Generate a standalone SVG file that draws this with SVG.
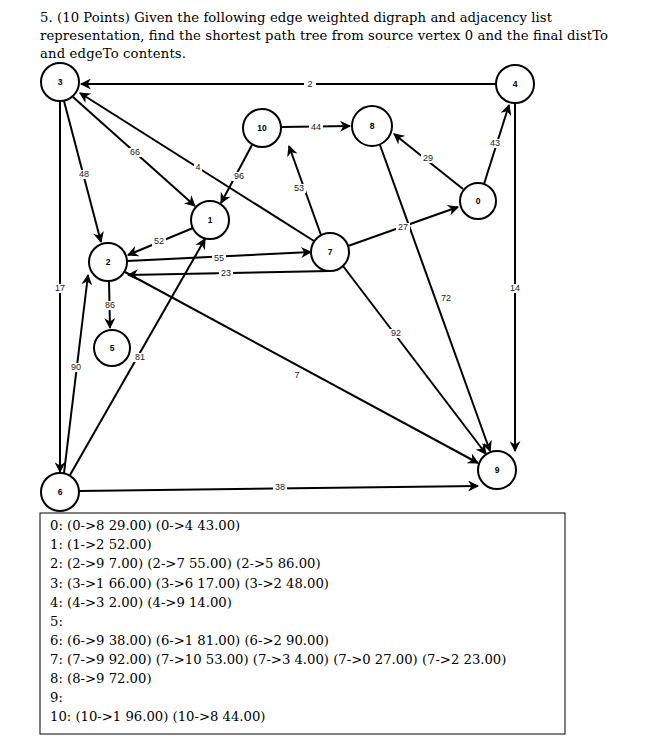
<svg xmlns="http://www.w3.org/2000/svg" width="669" height="756" viewBox="0 0 669 756">
<style>
.n circle{fill:#fff;stroke:#000;stroke-width:2}
.n text{font-family:"Liberation Sans",Arial,sans-serif;font-size:8.5px;font-weight:bold;text-anchor:middle;dominant-baseline:central}
.e line,.e path{stroke:#000;stroke-width:2;fill:none;marker-end:url(#a)}
.l{font-family:"Liberation Sans",Arial,sans-serif;font-size:9px;text-anchor:middle;dominant-baseline:central;fill:#222}
.lb{fill:#fff}
.t{font-family:"DejaVu Serif",serif;font-size:13.2px}
</style>
<defs><marker id="a" viewBox="0 0 10 10" refX="9" refY="5" markerWidth="12" markerHeight="11" orient="auto" markerUnits="userSpaceOnUse"><path d="M0,0 L10,5 L0,10 L3,5z" fill="#000"/></marker></defs>
<rect width="669" height="756" fill="#fff"/>
<g class="t">
<text x="40" y="22" textLength="512">5. (10 Points) Given the following edge weighted digraph and adjacency list</text>
<text x="40" y="40" textLength="568">representation, find the shortest path tree from source vertex 0 and the final distTo</text>
<text x="40" y="58" textLength="146">and edgeTo contents.</text>
</g>
<g class="e" id="edges">
<line x1="496" y1="84" x2="81" y2="84"/>
<line x1="282" y1="127" x2="350" y2="126"/>
<line x1="463" y1="189" x2="394" y2="134"/>
<line x1="484" y1="184" x2="509" y2="105"/>
<line x1="348" y1="246" x2="458" y2="207"/>
<line x1="73" y1="97" x2="195" y2="206"/>
<line x1="314" y1="241" x2="80" y2="93"/>
<line x1="64" y1="101" x2="101" y2="242"/>
<line x1="252" y1="145" x2="221" y2="203"/>
<line x1="321" y1="235" x2="289" y2="146"/>
<line x1="193" y1="228" x2="128" y2="255"/>
<line x1="127" y1="261" x2="311" y2="252"/>
<path d="M330,271 L128,275" />
<line x1="60" y1="101" x2="60" y2="472"/>
<line x1="109" y1="281" x2="110" y2="328"/>
<line x1="64" y1="473" x2="88" y2="275"/>
<line x1="70" y1="475" x2="205" y2="239"/>
<line x1="125" y1="272" x2="478" y2="463"/>
<line x1="343" y1="266" x2="486" y2="454"/>
<line x1="380" y1="145" x2="490" y2="451"/>
<line x1="515" y1="103" x2="515" y2="451"/>
<line x1="79" y1="491" x2="478" y2="486"/>
</g>
<g class="l">
<rect class="lb" x="304" y="80" width="12" height="9"/><text x="310" y="84">2</text>
<rect class="lb" x="309" y="123" width="14" height="9"/><text x="316" y="127">44</text>
<rect class="lb" x="421" y="154" width="14" height="9"/><text x="428" y="158">29</text>
<rect class="lb" x="488" y="139" width="14" height="9"/><text x="495" y="143">43</text>
<rect class="lb" x="396" y="223" width="14" height="9"/><text x="403" y="227">27</text>
<rect class="lb" x="128" y="148" width="14" height="9"/><text x="135" y="152">66</text>
<rect class="lb" x="194" y="163" width="8" height="9"/><text x="198" y="167">4</text>
<rect class="lb" x="77" y="170" width="14" height="9"/><text x="84" y="174">48</text>
<rect class="lb" x="232" y="172" width="14" height="9"/><text x="239" y="176">96</text>
<rect class="lb" x="292" y="184" width="14" height="9"/><text x="299" y="188">53</text>
<rect class="lb" x="152" y="237" width="14" height="9"/><text x="159" y="241">52</text>
<rect class="lb" x="212" y="254" width="14" height="9"/><text x="219" y="258">55</text>
<rect class="lb" x="219" y="269" width="14" height="9"/><text x="226" y="273">23</text>
<rect class="lb" x="53" y="284" width="14" height="9"/><text x="60" y="288">17</text>
<rect class="lb" x="103" y="301" width="14" height="9"/><text x="110" y="305">86</text>
<rect class="lb" x="69" y="363" width="14" height="9"/><text x="76" y="367">90</text>
<rect class="lb" x="133" y="353" width="14" height="9"/><text x="140" y="357">81</text>
<rect class="lb" x="293" y="371" width="8" height="9"/><text x="297" y="375">7</text>
<rect class="lb" x="389" y="329" width="14" height="9"/><text x="396" y="333">92</text>
<rect class="lb" x="439" y="294" width="14" height="9"/><text x="446" y="298">72</text>
<rect class="lb" x="508" y="284" width="14" height="9"/><text x="515" y="288">14</text>
<rect class="lb" x="273" y="483" width="14" height="9"/><text x="280" y="487">38</text>
</g>
<g class="n" id="n3"><circle cx="60" cy="82" r="19"/><text x="60" y="82">3</text></g>
<g class="n" id="n4"><circle cx="515" cy="84" r="19"/><text x="515" y="84">4</text></g>
<g class="n" id="n10"><circle cx="262" cy="128" r="19"/><text x="262" y="128">10</text></g>
<g class="n" id="n8"><circle cx="372" cy="126" r="20"/><text x="372" y="126">8</text></g>
<g class="n" id="n0"><circle cx="478" cy="201" r="18"/><text x="478" y="201">0</text></g>
<g class="n" id="n1"><circle cx="210" cy="220" r="19"/><text x="210" y="220">1</text></g>
<g class="n" id="n7"><circle cx="330" cy="252" r="19"/><text x="330" y="252">7</text></g>
<g class="n" id="n2"><circle cx="108" cy="262" r="19"/><text x="108" y="262">2</text></g>
<g class="n" id="n5"><circle cx="112" cy="348" r="18"/><text x="112" y="348">5</text></g>
<g class="n" id="n9"><circle cx="497" cy="470" r="19"/><text x="497" y="470">9</text></g>
<g class="n" id="n6"><circle cx="60" cy="492" r="19"/><text x="60" y="492">6</text></g>
<rect x="40" y="513" width="525" height="221" fill="none" stroke="#000" stroke-width="1"/>
<g class="t">
<text x="50" y="530">0: (0-&gt;8 29.00) (0-&gt;4 43.00)</text>
<text x="50" y="549">1: (1-&gt;2 52.00)</text>
<text x="50" y="568">2: (2-&gt;9 7.00) (2-&gt;7 55.00) (2-&gt;5 86.00)</text>
<text x="50" y="588">3: (3-&gt;1 66.00) (3-&gt;6 17.00) (3-&gt;2 48.00)</text>
<text x="50" y="607">4: (4-&gt;3 2.00) (4-&gt;9 14.00)</text>
<text x="50" y="626">5:</text>
<text x="50" y="645">6: (6-&gt;9 38.00) (6-&gt;1 81.00) (6-&gt;2 90.00)</text>
<text x="50" y="664">7: (7-&gt;9 92.00) (7-&gt;10 53.00) (7-&gt;3 4.00) (7-&gt;0 27.00) (7-&gt;2 23.00)</text>
<text x="50" y="683">8: (8-&gt;9 72.00)</text>
<text x="50" y="702">9:</text>
<text x="50" y="721">10: (10-&gt;1 96.00) (10-&gt;8 44.00)</text>
</g>
</svg>
